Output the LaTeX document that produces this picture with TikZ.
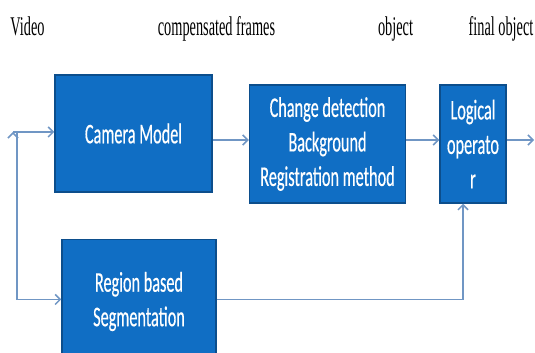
\documentclass[tikz,border=0pt]{standalone}
\usepackage{fontspec}
\newfontfamily\boxfont[FakeStretch=0.57,FakeBold=0.4]{Carlito}
\newfontfamily\labelfont[FakeStretch=0.53]{Liberation Serif}
\usetikzlibrary{arrows.meta,positioning}
\definecolor{boxblue}{RGB}{16,110,196}
\definecolor{boxedge}{RGB}{12,78,140}
\definecolor{linkblue}{RGB}{112,150,196}

\begin{document}
\begin{tikzpicture}[x=1pt, y=1pt, >={Straight Barb[length=5pt,width=10pt]},
	block/.style={draw=boxedge, line width=1.5pt, fill=boxblue, text=white, align=center, inner sep=0pt, font=\fontsize{28.5}{34.5}\boxfont},
	link/.style={draw=linkblue, line width=1.5pt, ->},
	caption/.style={anchor=base, font=\fontsize{27}{30}\labelfont}]
	\useasboundingbox (0,0) rectangle (535,353);

	% Blocks {cam, chg, logic, region}
	\node [block, minimum width=157pt, minimum height=117pt] (cam) at (133.5,219.5) {Camera Model};
	\node [block, minimum width=156pt, minimum height=118pt] (chg) [right=36pt of cam, yshift=-10.5pt] {Change detection\\Background\\Registration method};
	\node [block, minimum width=66pt, minimum height=118pt] (logic) [right=33pt of chg] {Logical\\operato\\r};
	\node [block, minimum width=154pt, minimum height=124pt] (region) [below=46pt of cam.south west, anchor=north west, xshift=7pt] {Region based\\Segmentation};

	% Captions
	\node [caption] (vid) at (27.5,317) {Video};
	\node [caption] (comp) at (216.5,317) {compensated frames};
	\node [caption] (obj) at (395.5,317) {object};
	\node [caption] (fin) at (501,317) {final object};

	% Free ends
	\coordinate (in) at (13,221);
	\coordinate (split) at (17,221);
	\coordinate (out) at (534,213);

	% Paths
	\path [link] (in) edge (in -| cam.west);
	\draw [link] (split) |- ([yshift=2pt]region.west);
	\draw [link] ([yshift=4pt]chg.west -| cam.east) -- ([yshift=4pt]chg.west);
	\draw [link] ([yshift=4pt]chg.east) -- ([yshift=4pt]logic.west);
	\draw [link] ([yshift=4pt]logic.east) -- (out);
	\draw [link] ([yshift=2pt]region.east) -| ([xshift=-10pt]logic.south);
\end{tikzpicture}
\end{document}
